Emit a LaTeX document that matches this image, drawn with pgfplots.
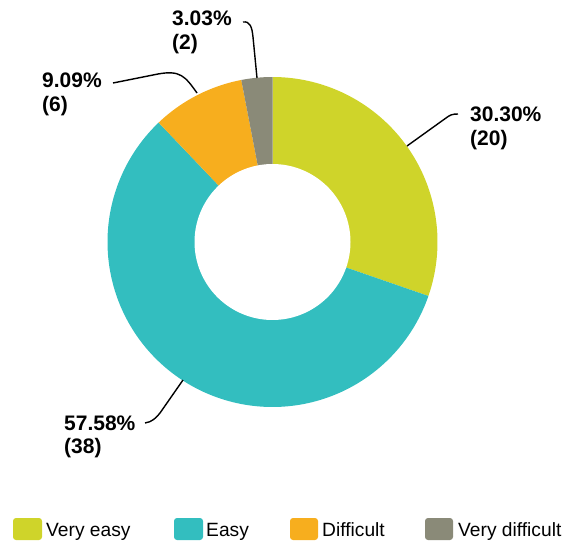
\documentclass[border=0pt]{standalone}
\usepackage{pgfplots}
\usepackage{pgfplotstable}
\pgfplotsset{compat=1.18}
\usepackage{fontspec}
\setmainfont{Liberation Sans}
\definecolor{cVE}{HTML}{CFD42A}
\definecolor{cE}{HTML}{33BEBF}
\definecolor{cD}{HTML}{F7AE1E}
\definecolor{cVD}{HTML}{8A8A78}
\pgfplotstableread{
idx value
0 20
1 38
2 6
3 2
}\pietable
\begin{document}
\begin{tikzpicture}
\pgfplotstablegetelem{0}{value}\of\pietable\edef\vA{\pgfplotsretval}
\pgfplotstablegetelem{1}{value}\of\pietable\edef\vB{\pgfplotsretval}
\pgfplotstablegetelem{2}{value}\of\pietable\edef\vC{\pgfplotsretval}
\pgfplotstablegetelem{3}{value}\of\pietable\edef\vD{\pgfplotsretval}
\pgfmathsetmacro\tot{\vA+\vB+\vC+\vD}
\pgfmathsetmacro\aA{90}
\pgfmathsetmacro\aB{90-360*\vA/\tot}
\pgfmathsetmacro\aC{\aB-360*\vB/\tot}
\pgfmathsetmacro\aD{\aC-360*\vC/\tot}
\pgfmathsetmacro\aE{\aD-360*\vD/\tot}
\def\cx{272.5}\def\cy{300}\def\R{165}\def\r{78}
\begin{axis}[width=565pt,height=542pt,scale only axis,
  xmin=0,xmax=565,ymin=0,ymax=542,hide axis,clip=false]
\draw[draw=none] (axis cs:0,0) rectangle (axis cs:565,542);
\addplot[fill=cVE, draw=none, domain=\aB:\aA, samples=80]
  ({\cx+\R*cos(x)},{\cy+\R*sin(x)}) -- (axis cs:\cx,\cy) -- cycle;
\addplot[fill=cE, draw=none, domain=\aC:\aB, samples=150]
  ({\cx+\R*cos(x)},{\cy+\R*sin(x)}) -- (axis cs:\cx,\cy) -- cycle;
\addplot[fill=cD, draw=none, domain=\aD:\aC, samples=40]
  ({\cx+\R*cos(x)},{\cy+\R*sin(x)}) -- (axis cs:\cx,\cy) -- cycle;
\addplot[fill=cVD, draw=none, domain=\aE:\aD, samples=20]
  ({\cx+\R*cos(x)},{\cy+\R*sin(x)}) -- (axis cs:\cx,\cy) -- cycle;
\addplot[fill=white, draw=none, domain=0:360, samples=150]
  ({\cx+\r*cos(x)},{\cy+\r*sin(x)}) -- cycle;
% leader lines
\draw[line width=1.4pt] (axis cs:458,428) .. controls (axis cs:452,428) and (axis cs:450,427) .. (axis cs:446,424) -- (axis cs:407,396);
\draw[line width=1.4pt] (axis cs:243,520) .. controls (axis cs:250,521) and (axis cs:252,515) .. (axis cs:253,505) -- (axis cs:257,464);
\draw[line width=1.4pt] (axis cs:113,459) -- (axis cs:158,468) .. controls (axis cs:180,472) and (axis cs:185,466) .. (axis cs:197,449);
\draw[line width=1.4pt] (axis cs:145,119) .. controls (axis cs:152,120) and (axis cs:156,124) .. (axis cs:160,129) -- (axis cs:183,162);
% labels
\tikzset{lab/.style={anchor=base west,inner sep=0pt,font=\fontsize{21}{24}\selectfont\bfseries}}
\node[lab] at (axis cs:470,420) {30.30\%};
\node[lab] at (axis cs:470,396) {(20)};
\node[lab] at (axis cs:172,516) {3.03\%};
\node[lab] at (axis cs:172,492) {(2)};
\node[lab] at (axis cs:42,454) {9.09\%};
\node[lab] at (axis cs:42,430) {(6)};
\node[lab] at (axis cs:64,112) {57.58\%};
\node[lab] at (axis cs:64,89) {(38)};
% legend
\tikzset{leg/.style={anchor=base west,inner sep=0pt,font=\fontsize{19.2}{22}\selectfont}}
\fill[cVE,rounded corners=3pt] (axis cs:13,2) rectangle (axis cs:42,24);
\node[leg] at (axis cs:46,6) {Very easy};
\fill[cE,rounded corners=3pt] (axis cs:174,2) rectangle (axis cs:203,24);
\node[leg] at (axis cs:206,6) {Easy};
\fill[cD,rounded corners=3pt] (axis cs:290,2) rectangle (axis cs:318,24);
\node[leg] at (axis cs:322,6) {Difficult};
\fill[cVD,rounded corners=3pt] (axis cs:425,2) rectangle (axis cs:453,24);
\node[leg] at (axis cs:458,6) {Very difficult};
\end{axis}
\end{tikzpicture}
\end{document}
